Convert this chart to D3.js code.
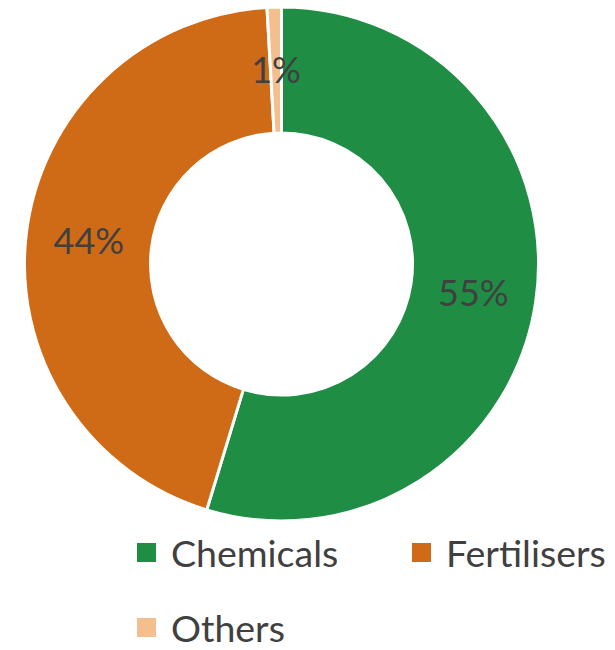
<!DOCTYPE html>
<html>
<head>
<meta charset="utf-8">
<script src="https://cdn.jsdelivr.net/npm/d3@7"></script>
<style>
  body { margin: 0; background: #fff; }
  svg text { font-family: Lato, "Open Sans", sans-serif; fill: #404040; }
</style>
</head>
<body>
<div id="chart"></div>
<script>
var categories = ["Chemicals", "Fertilisers", "Others"];
var shares = [54.7, 44.4, 0.9];
var colours = ["#1f8d44", "#cf6b16", "#f4be8e"];

var svg = d3.select("#chart").append("svg").attr("width", 615).attr("height", 650),
    cx = 281.5, cy = 264,
    outer = 257, inner = 131;

var data = categories.map(function (c, i) {
    return {name: c, value: shares[i], colour: colours[i]};
});

var pie = d3.pie().sort(null).value(function (d) { return d.value; });
var arc = d3.arc().innerRadius(inner).outerRadius(outer);

var g = svg.append("g").attr("transform", "translate(" + cx + "," + cy + ")");

g.selectAll("path")
        .data(pie(data))
        .enter().append("path")
        .attr("d", arc)
        .attr("fill", function (d) { return d.data.colour; })
        .attr("stroke", "#fff")
        .attr("stroke-width", 3);

g.selectAll("text")
        .data(pie(data))
        .enter().append("text")
        .attr("transform", function (d) { return "translate(" + arc.centroid(d) + ")"; })
        .attr("text-anchor", "middle")
        .attr("dy", "0.36em")
        .style("font-size", "36px")
        .text(function (d) { return Math.round(d.data.value) + "%"; });

// legend: two per row
var legend = svg.append("g");
var pos = [[137, 553], [412, 553], [137, 628]];

var item = legend.selectAll("g")
        .data(data)
        .enter().append("g")
        .attr("transform", function (d, i) { return "translate(" + pos[i][0] + "," + pos[i][1] + ")"; });

item.append("rect")
        .attr("x", 0).attr("y", -10)
        .attr("width", 19).attr("height", 19)
        .attr("fill", function (d) { return d.colour; });

item.append("text")
        .attr("x", 34)
        .attr("dy", "0.36em")
        .style("font-size", "37.5px")
        .text(function (d) { return d.name; });
</script>
</body>
</html>
